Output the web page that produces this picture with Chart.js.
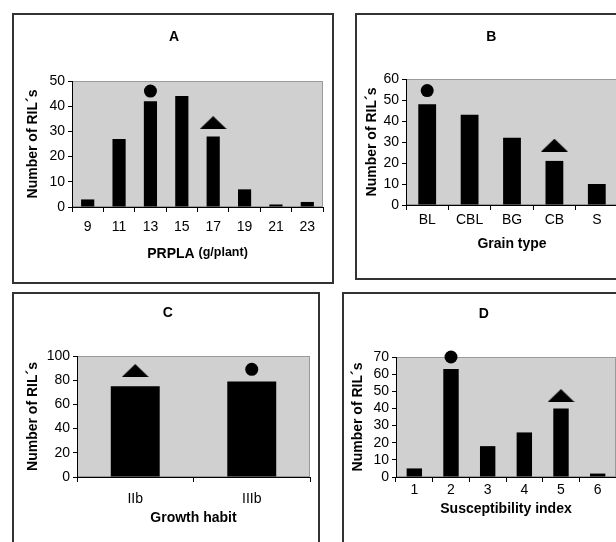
<!DOCTYPE html>
<html>
<head>
<meta charset="utf-8">
<script src="https://cdn.jsdelivr.net/npm/chart.js@4.4.0/dist/chart.umd.min.js"></script>
<style>
    html, body { margin: 0; padding: 0; background: #fff; overflow: hidden; width: 616px; height: 542px; }
    .panel { position: absolute; border: 2px solid #333; box-sizing: border-box; background: #fff; overflow: hidden; }
    .panel canvas { position: absolute; left: 0; top: 0; }
</style>
</head>
<body>
<div class="panel" style="left:12px;top:13px;width:322px;height:271px"><canvas id="chartA" width="318" height="267"></canvas></div>
<div class="panel" style="left:355px;top:13px;width:273px;height:267px"><canvas id="chartB" width="269" height="263"></canvas></div>
<div class="panel" style="left:12px;top:292px;width:308px;height:262px"><canvas id="chartC" width="304" height="258"></canvas></div>
<div class="panel" style="left:342px;top:292px;width:284px;height:262px"><canvas id="chartD" width="280" height="258"></canvas></div>
<script>
// Panel A - PRPLA
const aLabels = ['9', '11', '13', '15', '17', '19', '21', '23'];
const aCounts = [3, 27, 42, 44, 28, 7, 1, 2];
const aCircle = [null, null, 46, null, null, null, null, null];
const aTriangle = [null, null, null, null, 33.5, null, null, null];

// Panel B - grain type
const bLabels = ['BL', 'CBL', 'BG', 'CB', 'S'];
const bCounts = [48, 43, 32, 21, 10];
const bCircle = [54.5, null, null, null, null];
const bTriangle = [null, null, null, 28.5, null];

// Panel C - growth habit
const cLabels = ['IIb', 'IIIb'];
const cCounts = [75, 79];
const cCircle = [null, 89];
const cTriangle = [88, null];

// Panel D - susceptibility index
const dLabels = ['1', '2', '3', '4', '5', '6'];
const dCounts = [5, 63, 18, 26, 40, 2];
const dCircle = [null, 70, null, null, null, null];
const dTriangle = [null, null, null, null, 47.5, null];

const FONT = "'Liberation Sans', Arial, sans-serif";

function makeTriangle(w, h) {
    const c = document.createElement('canvas');
    c.width = w;
    c.height = h;
    const g = c.getContext('2d');
    g.fillStyle = '#000';
    g.beginPath();
    g.moveTo(w / 2, 0);
    g.lineTo(w, h);
    g.lineTo(0, h);
    g.closePath();
    g.fill();
    return c;
}
const triangleImg = makeTriangle(27, 13);

// grey plot area like the old Excel charts
const plotBackground = {
    id: 'plotBackground',
    beforeDraw(chart) {
        const { ctx, chartArea: a } = chart;
        ctx.save();
        ctx.fillStyle = '#d0d0d0';
        ctx.fillRect(a.left, a.top, a.right - a.left, a.bottom - a.top);
        ctx.strokeStyle = '#9a9a9a';
        ctx.lineWidth = 1;
        ctx.strokeRect(a.left + 0.5, a.top + 0.5, a.right - a.left - 1, a.bottom - a.top - 1);
        ctx.restore();
    }
};

// "PRPLA (g/plant)" has two font sizes, so it is drawn by hand
const prplaTitle = {
    id: 'prplaTitle',
    afterDraw(chart) {
        const { ctx, chartArea: a } = chart;
        const big = 'bold 14px ' + FONT;
        const small = 'bold 12.5px ' + FONT;
        ctx.save();
        ctx.fillStyle = '#000';
        ctx.textBaseline = 'alphabetic';
        ctx.font = big;
        const w1 = ctx.measureText('PRPLA ').width;
        ctx.font = small;
        const w2 = ctx.measureText('(g/plant)').width;
        const x0 = (a.left + a.right) / 2 - (w1 + w2) / 2;
        const y = a.bottom + 51;
        ctx.font = big;
        ctx.fillText('PRPLA ', x0, y);
        ctx.font = small;
        ctx.fillText('(g/plant)', x0 + w1, y - 2);
        ctx.restore();
    }
};

function buildChart(id, cfg) {
    const ctx = document.getElementById(id).getContext('2d');
    return new Chart(ctx, {
        type: 'bar',
        data: {
            labels: cfg.labels,
            datasets: [
                {
                    type: 'line',
                    data: cfg.circle,
                    showLine: false,
                    pointStyle: 'circle',
                    pointRadius: 6.5,
                    pointBackgroundColor: '#000',
                    pointBorderWidth: 0,
                    clip: false,
                    order: 0
                },
                {
                    type: 'line',
                    data: cfg.triangle,
                    showLine: false,
                    pointStyle: triangleImg,
                    pointRadius: 7,
                    clip: false,
                    order: 0
                },
                {
                    data: cfg.counts,
                    backgroundColor: '#000',
                    borderWidth: 0,
                    barPercentage: 0.42,
                    categoryPercentage: 1,
                    order: 1
                }
            ]
        },
        options: {
            responsive: false,
            animation: false,
            events: [],
            layout: { padding: cfg.pad },
            plugins: {
                legend: { display: false },
                tooltip: { enabled: false },
                title: {
                    display: true,
                    text: cfg.title,
                    color: '#000',
                    font: { family: FONT, size: 14, weight: 'bold' },
                    padding: cfg.titlePad
                }
            },
            scales: {
                x: {
                    afterFit: (scale) => { scale.height = cfg.xHeight; },
                    grid: {
                        offset: true,
                        drawOnChartArea: false,
                        drawTicks: true,
                        tickLength: 5,
                        color: '#000'
                    },
                    border: { display: true, color: '#000', width: 1 },
                    ticks: {
                        color: '#000',
                        padding: cfg.tickPad,
                        maxRotation: 0,
                        autoSkip: false,
                        font: { family: FONT, size: 14 }
                    },
                    title: {
                        display: !!cfg.xTitle,
                        text: cfg.xTitle || '',
                        color: '#000',
                        padding: 0,
                        font: { family: FONT, size: 14, weight: 'bold' }
                    }
                },
                y: {
                    min: 0,
                    max: cfg.yMax,
                    afterFit: (scale) => { scale.width = cfg.yWidth; },
                    grid: {
                        drawOnChartArea: false,
                        drawTicks: true,
                        tickLength: 4,
                        color: '#000'
                    },
                    border: { display: true, color: '#000', width: 1 },
                    ticks: {
                        stepSize: cfg.yStep,
                        autoSkip: false,
                        color: '#000',
                        padding: 3,
                        font: { family: FONT, size: 14 }
                    },
                    title: {
                        display: true,
                        text: 'Number of RIL´s',
                        color: '#000',
                        padding: 0,
                        font: { family: FONT, size: 14, weight: 'bold' }
                    }
                }
            }
        },
        plugins: cfg.extra ? [plotBackground, cfg.extra] : [plotBackground]
    });
}

buildChart('chartA', {
    labels: aLabels, counts: aCounts, circle: aCircle, triangle: aTriangle,
    title: 'A', xTitle: null, yMax: 50, yStep: 10,
    pad: { left: 11, right: 9, top: 0, bottom: 21 },
    titlePad: { top: 13.6, bottom: 35.6 },
    yWidth: 47, xHeight: 54, tickPad: 7,
    extra: prplaTitle
});

buildChart('chartB', {
    labels: bLabels, counts: bCounts, circle: bCircle, triangle: bTriangle,
    title: 'B', xTitle: 'Grain type', yMax: 60, yStep: 10,
    pad: { left: 6.6, right: 7, top: 0, bottom: 25.6 },
    titlePad: { top: 13.6, bottom: 33.6 },
    yWidth: 42.4, xHeight: 47.4, tickPad: 1.6
});

buildChart('chartC', {
    labels: cLabels, counts: cCounts, circle: cCircle, triangle: cTriangle,
    title: 'C', xTitle: 'Growth habit', yMax: 100, yStep: 20,
    pad: { left: 10.6, right: 7, top: 0, bottom: 25.6 },
    titlePad: { top: 10.6, bottom: 34.6 },
    yWidth: 52.4, xHeight: 49.4, tickPad: 8.6
});

buildChart('chartD', {
    labels: dLabels, counts: dCounts, circle: dCircle, triangle: dTriangle,
    title: 'D', xTitle: 'Susceptibility index', yMax: 70, yStep: 10,
    pad: { left: 5.6, right: 6, top: 0, bottom: 34.6 },
    titlePad: { top: 11.6, bottom: 34.6 },
    yWidth: 46.4, xHeight: 40.4, tickPad: 0
});
</script>
</body>
</html>
